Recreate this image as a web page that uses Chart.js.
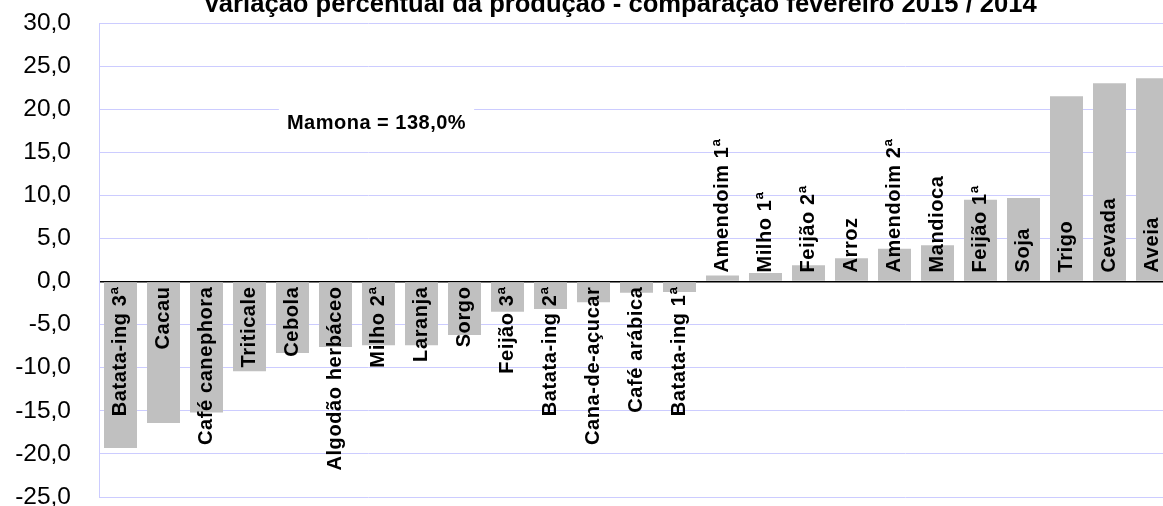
<!DOCTYPE html>
<html>
<head>
<meta charset="utf-8">
<script src="https://cdn.jsdelivr.net/npm/chart.js@4"></script>
<style>
  html, body { margin: 0; padding: 0; background: #fff; overflow: hidden; }
  canvas { display: block; }
</style>
</head>
<body>
<canvas id="chart" width="1174" height="506"></canvas>
<script>
// Categories (crops), in chart order
const crops = [
  "Batata-ing 3ª", "Cacau", "Café canephora", "Triticale", "Cebola",
  "Algodão herbáceo", "Milho 2ª", "Laranja", "Sorgo", "Feijão 3ª",
  "Batata-ing 2ª", "Cana-de-açucar", "Café arábica", "Batata-ing 1ª",
  "Amendoim 1ª", "Milho 1ª", "Feijão 2ª", "Arroz", "Amendoim 2ª",
  "Mandioca", "Feijão 1ª", "Soja", "Trigo", "Cevada", "Aveia"
];

// Percentual variation Feb 2015 / 2014
const variation = [
  -19.3, -16.4, -15.2, -10.4, -8.3,
  -7.6, -7.4, -7.4, -6.2, -3.5,
  -3.2, -2.4, -1.3, -1.2,
  0.7, 1.0, 1.9, 2.7, 3.8,
  4.2, 9.5, 9.7, 21.5, 23.0, 23.6
];

// y axis ticks
const yTicks = [-25, -20, -15, -10, -5, 0, 5, 10, 15, 20, 25, 30];

const titleText = "Variação percentual da produção - comparação fevereiro 2015 / 2014";
const noteText = "Mamona = 138,0%";

const FONT = '"Liberation Sans", Arial, sans-serif';

// category names drawn inside the bars, starting from the zero line
const barNames = {
  id: 'barNames',
  afterDatasetsDraw(chart) {
    const ctx = chart.ctx;
    const y0 = chart.scales.y.getPixelForValue(0);
    const meta = chart.getDatasetMeta(0);
    ctx.save();
    ctx.font = 'bold 20px ' + FONT;
    ctx.letterSpacing = '0.6px';
    ctx.fillStyle = '#000';
    ctx.textBaseline = 'alphabetic';
    meta.data.forEach((bar, i) => {
      const v = variation[i];
      ctx.save();
      if (v >= 0) {
        ctx.translate(bar.x + 5, y0 - 9);
        ctx.rotate(-Math.PI / 2);
        ctx.textAlign = 'left';
      } else {
        ctx.translate(bar.x + 5, y0 + 5);
        ctx.rotate(-Math.PI / 2);
        ctx.textAlign = 'right';
      }
      ctx.fillText(crops[i], 0, 0);
      ctx.restore();
    });
    ctx.restore();
  },
  afterDraw(chart) {
    const ctx = chart.ctx;
    const xs = chart.scales.x, ys = chart.scales.y;
    ctx.save();
    // title (cut off at the top as in the original)
    ctx.font = 'bold 25.6px ' + FONT;
    ctx.fillStyle = '#000';
    ctx.textAlign = 'center';
    ctx.textBaseline = 'alphabetic';
    ctx.fillText(titleText, 620, 11.5);

    // Mamona note, off-scale value
    ctx.font = 'bold 20px ' + FONT;
    ctx.letterSpacing = '0.5px';
    const nx = xs.getPixelForValue(6) - 2;
    const ny = ys.getPixelForValue(18.5);
    const w = ctx.measureText(noteText).width;
    ctx.fillStyle = '#fff';
    ctx.fillRect(nx - w / 2 - 8, ny - 16, w + 16, 32);
    ctx.fillStyle = '#000';
    ctx.textBaseline = 'middle';
    ctx.fillText(noteText, nx, ny + 1.5);
    ctx.restore();
  }
};

new Chart(document.getElementById('chart'), {
  type: 'bar',
  data: {
    labels: crops,
    datasets: [{
      data: variation,
      backgroundColor: '#c0c0c0',
      borderWidth: 0,
      categoryPercentage: 1,
      barPercentage: 0.767
    }]
  },
  plugins: [barNames],
  options: {
    responsive: false,
    animation: false,
    layout: { padding: { top: 23, bottom: 9, left: 0, right: 0 } },
    plugins: {
      legend: { display: false },
      tooltip: { enabled: false },
      title: { display: false }
    },
    scales: {
      x: { display: false },
      y: {
        min: -25,
        max: 30,
        afterBuildTicks(scale) {
          scale.ticks = yTicks.map(v => ({ value: v }));
        },
        afterFit(scale) {
          scale.width = 99;
          scale.paddingTop = 0;
          scale.paddingBottom = 0;
        },
        border: { color: '#ccccff', width: 1 },
        grid: {
          drawTicks: false,
          color: ctx => ctx.tick && ctx.tick.value === 0 ? '#000' : '#ccccff',
          lineWidth: ctx => ctx.tick && ctx.tick.value === 0 ? 1.5 : 1
        },
        ticks: {
          padding: 28,
          color: '#000',
          font: { family: FONT, size: 24.5 },
          callback: v => v.toFixed(1).replace('.', ',')
        }
      }
    }
  }
});
</script>
</body>
</html>
